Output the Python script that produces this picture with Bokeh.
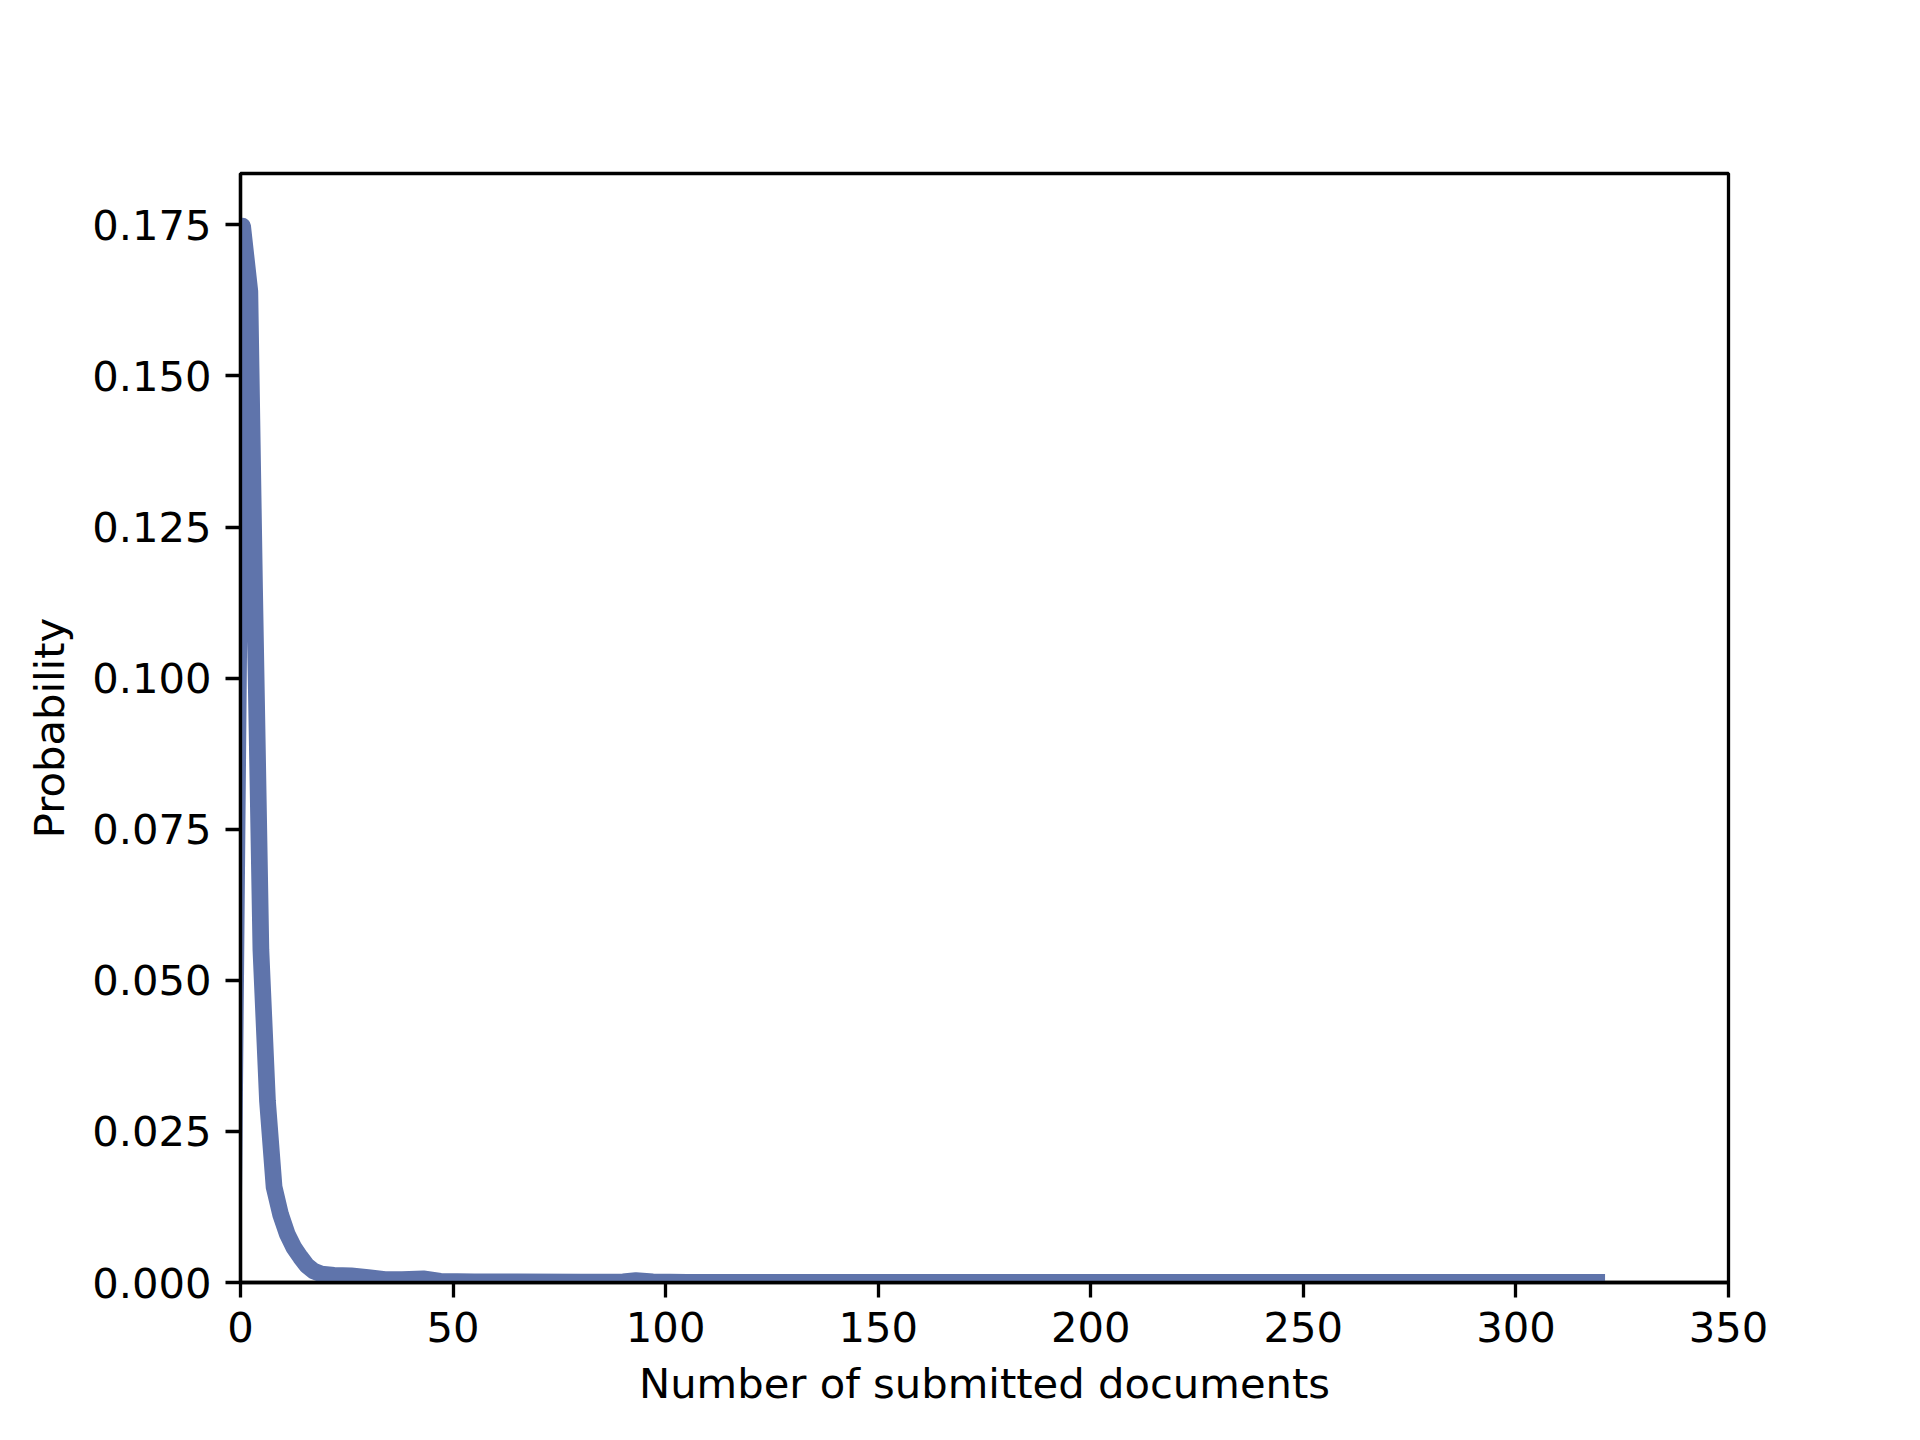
from bokeh.plotting import figure
from bokeh.models import FixedTicker, PrintfTickFormatter
from bokeh.embed import file_html
from bokeh.resources import INLINE

# Data
num_docs = [-1.8, 0.5, 2.2, 3.3, 4.8, 6.35, 7.9, 9.45, 11.0, 12.55, 14.1, 15.6,
            17.2, 19.0, 22.0, 26.0, 30.0, 34.0, 38.0, 43.0, 47.0, 55.0, 65.0,
            80.0, 90.0, 93.0, 97.0, 105.0, 150.0, 200.0, 250.0, 300.0, 319.0]
probability = [0.0, 0.1748, 0.164, 0.115, 0.055, 0.030, 0.0158, 0.0112, 0.0080,
               0.0058, 0.0042, 0.0028, 0.0019, 0.0014, 0.0012, 0.0011, 0.0008,
               0.0005, 0.0005, 0.0006, 0.0002, 0.00012, 0.0001, 0.00008, 0.0001,
               0.0003, 0.0001, 0.00003, 0.00003, 0.00003, 0.00003, 0.00003,
               0.00003]

x_ticks = [0, 50, 100, 150, 200, 250, 300, 350]
y_ticks = [0.0, 0.025, 0.05, 0.075, 0.1, 0.125, 0.15, 0.175]

FONT = "DejaVu Sans"
FS = "41.7px"

p = figure(output_backend="svg", toolbar_location=None,
           frame_width=1488, frame_height=1109,
           min_border_left=240, min_border_right=176,
           min_border_top=173, min_border_bottom=142,
           x_range=(0, 350), y_range=(0, 0.1835))
p.background_fill_color = "white"
p.border_fill_color = "white"
p.outline_line_color = "black"
p.outline_line_width = 3.3
p.xgrid.visible = False
p.ygrid.visible = False

p.line(num_docs, probability, line_color="#5f74ab", line_width=16.7,
       line_join="round", line_cap="square")

for ax in (p.xaxis, p.yaxis):
    ax.axis_line_color = "black"
    ax.axis_line_width = 3.3
    ax.major_tick_line_color = "black"
    ax.major_tick_line_width = 3.3
    ax.major_tick_out = 15
    ax.major_tick_in = 0
    ax.minor_tick_line_color = None
    ax.major_label_text_font = FONT
    ax.major_label_text_font_size = FS
    ax.major_label_text_color = "black"
    ax.major_label_standoff = 14
    ax.axis_label_text_font = FONT
    ax.axis_label_text_font_size = FS
    ax.axis_label_text_font_style = "normal"
    ax.axis_label_text_color = "black"

p.xaxis.ticker = FixedTicker(ticks=x_ticks)
p.yaxis.ticker = FixedTicker(ticks=y_ticks)
p.yaxis.formatter = PrintfTickFormatter(format="%.3f")
p.xaxis.axis_label = "Number of submitted documents"
p.yaxis.axis_label = "Probability"
p.xaxis.axis_label_standoff = 14
p.yaxis.axis_label_standoff = 15

open("out.html", "w").write(file_html(p, INLINE))
